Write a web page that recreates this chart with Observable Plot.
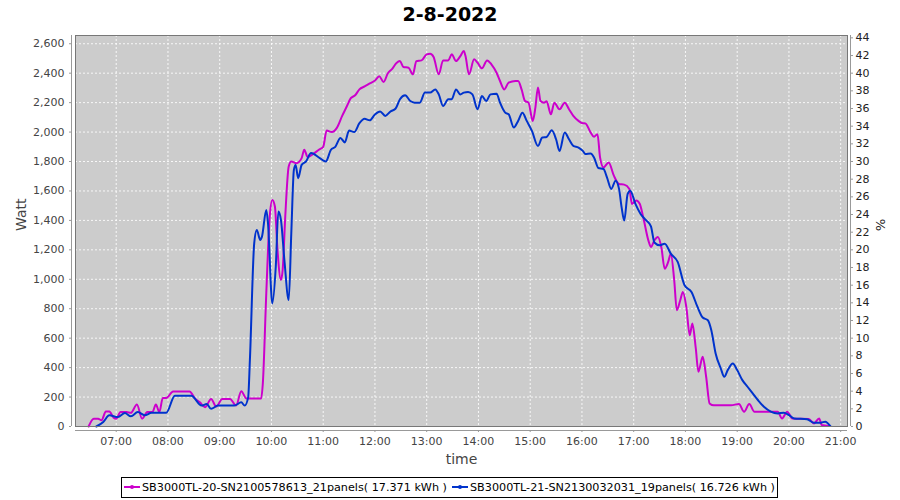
<!DOCTYPE html>
<html><head><meta charset="utf-8">
<script src="https://cdn.jsdelivr.net/npm/d3@7"></script>
<script src="https://cdn.jsdelivr.net/npm/@observablehq/plot@0.6"></script>
<style>
body{margin:0;background:#fff;font-family:"DejaVu Sans",sans-serif;}
#wrap{position:relative;width:900px;height:500px;overflow:hidden;}
#title{position:absolute;left:0;top:2px;width:900px;text-align:center;font-weight:bold;font-size:19px;line-height:24px;color:#000;}
#chart{position:absolute;left:0;top:30px;}
#legend{position:absolute;left:121px;top:477px;width:655px;height:19px;border:1px solid #000;font-size:11.2px;color:#000;}
.item{position:absolute;top:0;height:19px;line-height:19px;white-space:nowrap;}
.sw{display:inline-block;position:relative;width:16px;height:2px;vertical-align:middle;margin-right:2px;top:-1px;}
.sw i{position:absolute;left:6px;top:-1px;width:4px;height:4px;border-radius:2px;}
</style></head>
<body>
<div id="wrap">
  <div id="title"></div>
  <div id="chart"></div>
  <div id="legend"></div>
</div>
<script>
const chartTitle = "2-8-2022";
const seriesNames = ["SB3000TL-20-SN2100578613_21panels( 17.371 kWh )", "SB3000TL-21-SN2130032031_19panels( 16.726 kWh )"];
const seriesColors = ["#cc00cc", "#0033cc"];
const hourTicks = [7,8,9,10,11,12,13,14,15,16,17,18,19,20,21];
const wattTicks = [0,200,400,600,800,1000,1200,1400,1600,1800,2000,2200,2400,2600];
const pctTicks = [0,2,4,6,8,10,12,14,16,18,20,22,24,26,28,30,32,34,36,38,40,42,44];
const wattPerPct = 60;

// Series 1 (21 panels)
const times1 = ["06:28","06:34","06:39","06:43","06:48","06:52","06:57","07:00","07:05","07:12","07:17","07:24","07:30","07:36","07:42","07:46","07:50","07:54","07:58","08:06","08:25","08:31","08:37","08:43","08:50","08:56","09:03","09:12","09:19","09:25","09:31","09:48","09:50","09:54","09:58","10:01","10:04","10:07","10:11","10:13","10:16","10:20","10:23","10:29","10:35","10:38","10:42","10:48","10:55","11:00","11:04","11:10","11:16","11:22","11:27","11:32","11:37","11:42","11:48","11:54","12:00","12:05","12:10","12:15","12:20","12:25","12:29","12:33","12:39","12:44","12:48","12:54","13:00","13:04","13:08","13:14","13:19","13:25","13:29","13:34","13:39","13:43","13:45","13:49","13:55","13:59","14:04","14:10","14:15","14:21","14:25","14:30","14:35","14:43","14:46","14:50","14:54","14:58","15:03","15:06","15:09","15:12","15:16","15:19","15:24","15:28","15:34","15:40","15:45","15:50","15:56","16:01","16:04","16:10","16:14","16:18","16:21","16:25","16:31","16:37","16:43","16:49","16:55","16:58","17:03","17:07","17:11","17:17","17:20","17:24","17:28","17:32","17:36","17:40","17:43","17:47","17:50","17:54","17:57","18:01","18:05","18:08","18:12","18:15","18:20","18:24","18:28","18:33","18:53","19:02","19:08","19:14","19:20","19:47","19:52","19:58","20:04","20:23","20:29","20:35","20:38","20:46"];
const watts1 = [0,53,53,42,102,102,60,53,98,98,93,149,53,98,98,149,98,193,193,238,238,193,164,131,187,136,187,187,142,240,190,190,292,904,1426,1539,1494,1199,995,1063,1426,1766,1800,1789,1823,1880,1830,1850,1880,1900,2010,2000,2030,2110,2170,2230,2250,2290,2310,2330,2350,2380,2340,2400,2430,2470,2482,2442,2437,2392,2482,2487,2528,2532,2510,2392,2487,2487,2528,2482,2516,2550,2516,2392,2494,2471,2433,2487,2460,2403,2347,2290,2336,2347,2347,2290,2211,2200,2076,2166,2302,2211,2200,2210,2121,2200,2155,2200,2155,2110,2076,2060,2059,1998,1968,1986,1828,1760,1794,1704,1647,1643,1614,1512,1536,1513,1423,1264,1219,1264,1287,1219,1072,1118,1174,993,790,858,914,812,620,699,530,372,473,338,157,144,144,153,101,153,101,101,55,101,55,51,21,55,10,3];

// Series 2 (19 panels)
const times2 = ["06:37","06:45","06:52","07:02","07:10","07:17","07:25","07:33","07:41","07:58","08:08","08:27","08:39","08:45","08:50","08:58","09:17","09:25","09:29","09:33","09:35","09:40","09:43","09:47","09:49","09:54","09:56","10:01","10:05","10:08","10:11","10:15","10:20","10:23","10:26","10:28","10:31","10:35","10:40","10:46","10:56","11:03","11:09","11:14","11:20","11:25","11:30","11:36","11:42","11:48","11:54","12:00","12:06","12:12","12:18","12:24","12:29","12:35","12:41","12:46","12:52","12:58","13:04","13:10","13:14","13:19","13:25","13:29","13:34","13:39","13:43","13:48","13:53","13:59","14:04","14:09","14:14","14:21","14:25","14:31","14:35","14:41","14:46","14:51","14:56","15:02","15:09","15:14","15:19","15:25","15:30","15:34","15:40","15:45","15:50","15:56","16:01","16:04","16:10","16:14","16:19","16:25","16:29","16:34","16:39","16:43","16:46","16:49","16:53","16:56","17:02","17:08","17:14","17:20","17:24","17:30","17:36","17:43","17:51","17:59","18:07","18:14","18:20","18:26","18:30","18:35","18:41","18:45","18:49","18:55","19:00","19:06","19:12","19:18","19:24","19:31","19:39","19:47","19:54","20:00","20:06","20:21","20:29","20:37","20:42","20:48"];
const watts2 = [0,31,76,64,91,69,98,76,93,93,209,209,142,153,120,142,142,164,142,198,451,1244,1335,1267,1290,1471,1380,836,1085,1460,1403,1131,859,1312,1743,1777,1687,1777,1800,1857,1823,1800,1880,1900,1960,1930,2010,2000,2060,2090,2080,2120,2140,2110,2140,2160,2223,2250,2211,2200,2200,2268,2268,2290,2256,2177,2223,2223,2290,2256,2268,2272,2256,2155,2245,2211,2256,2261,2200,2132,2121,2031,2076,2132,2076,2008,1906,1963,1967,2012,1951,1872,1997,1951,1906,1895,1872,1851,1855,1828,1756,1749,1693,1614,1670,1614,1489,1399,1580,1602,1512,1444,1403,1360,1250,1231,1242,1174,1118,959,914,812,740,722,654,496,394,338,383,428,383,315,270,225,180,134,101,89,94,78,55,49,26,26,33,3];

const toH = s => { const [h, m] = s.split(":").map(Number); return h + m / 60; };
const rows = [];
times1.forEach((t, i) => rows.push({series: seriesNames[0], h: toH(t), w: watts1[i]}));
times2.forEach((t, i) => rows.push({series: seriesNames[1], h: toH(t), w: watts2[i]}));

const xMin = 6 + 12.8 / 60, xMax = 21 + 7.9 / 60;
const yMax = 2656;

document.getElementById("title").textContent = chartTitle;

const chart = Plot.plot({
  width: 900, height: 442,
  marginLeft: 75, marginRight: 53, marginTop: 5, marginBottom: 46,
  style: {fontFamily: "'DejaVu Sans', sans-serif", fontSize: "11px", background: "transparent", overflow: "visible"},
  x: {domain: [xMin, xMax]},
  y: {domain: [0, yMax]},
  color: {domain: seriesNames, range: seriesColors},
  marks: [
    Plot.frame({fill: "#cccccc"}),
    Plot.gridX(hourTicks, {stroke: "#ffffff", strokeOpacity: 0.85, strokeDasharray: "2,2"}),
    Plot.gridY(wattTicks, {stroke: "#ffffff", strokeOpacity: 0.85, strokeDasharray: "2,2"}),
    Plot.line(rows, {x: "h", y: "w", z: "series", stroke: "series", strokeWidth: 2, curve: "monotone-x"}),
    Plot.frame({stroke: "#777"}),
    Plot.ruleY([0], {dy: 4, stroke: "#999"}),
    Plot.ruleX([xMin], {dx: -4, stroke: "#999"}),
    Plot.ruleX([xMax], {dx: 3, stroke: "#999"}),
    Plot.axisX(hourTicks, {anchor: "bottom", dy: 4, tickSize: 2, tickPadding: 5, label: null, stroke: "#999", fill: "#444",
      tickFormat: h => String(h).padStart(2, "0") + ":00"}),
    Plot.axisY(wattTicks, {anchor: "left", dx: -4, tickSize: 2, tickPadding: 5, label: null, stroke: "#999", fill: "#444",
      tickFormat: d3.format(",")}),
    Plot.axisY(pctTicks.map(p => p * wattPerPct), {anchor: "right", dx: 3, tickSize: 2, tickPadding: 3, label: null, stroke: "#999", fill: "#222",
      tickFormat: d => String(Math.round(d / wattPerPct))}),
    Plot.text(["time"], {text: d => d, frameAnchor: "bottom", dy: 37, fontSize: 14, fill: "#444"}),
    Plot.text(["Watt"], {text: d => d, frameAnchor: "left", dx: -54, rotate: -90, fontSize: 14, fill: "#444"}),
    Plot.text(["%"], {text: d => d, frameAnchor: "right", dx: 33, rotate: 90, fontSize: 13, fill: "#222"})
  ]
});
document.getElementById("chart").appendChild(chart);

const legend = document.getElementById("legend");
const itemLefts = [2, 330];
seriesNames.forEach((name, i) => {
  const it = document.createElement("div");
  it.className = "item";
  it.style.left = itemLefts[i] + "px";
  const sw = document.createElement("span");
  sw.className = "sw";
  sw.style.background = seriesColors[i];
  const dot = document.createElement("i");
  dot.style.background = seriesColors[i];
  sw.appendChild(dot);
  it.appendChild(sw);
  it.appendChild(document.createTextNode(name));
  legend.appendChild(it);
});
</script>
</body></html>
